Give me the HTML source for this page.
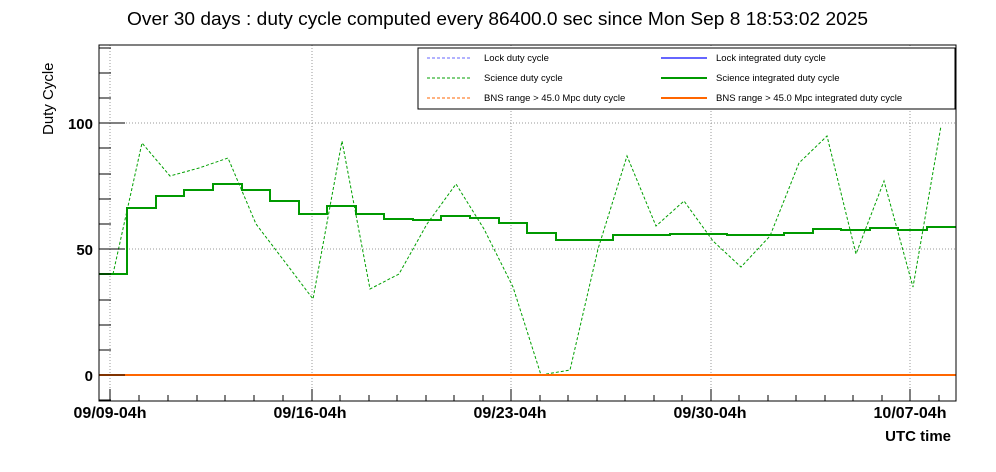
<!DOCTYPE html>
<html><head><style>body{margin:0;background:#fff}svg{display:block}</style></head><body>
<svg width="996" height="472" xmlns="http://www.w3.org/2000/svg" font-family="Liberation Sans, sans-serif">
<rect width="996" height="472" fill="#fff"/>
<text x="127" y="25" font-size="18" textLength="741" lengthAdjust="spacingAndGlyphs">Over 30 days : duty cycle computed every 86400.0 sec since Mon Sep  8 18:53:02 2025</text>
<g stroke="#999" stroke-width="1" stroke-dasharray="1,2">
<line x1="110" y1="45" x2="110" y2="401"/><line x1="312" y1="45" x2="312" y2="401"/><line x1="511" y1="45" x2="511" y2="401"/><line x1="711" y1="45" x2="711" y2="401"/><line x1="910" y1="45" x2="910" y2="401"/>
<line x1="99" y1="375" x2="956" y2="375"/><line x1="99" y1="249" x2="956" y2="249"/><line x1="99" y1="123" x2="956" y2="123"/>
</g>
<polyline fill="none" stroke="#00a000" stroke-width="1" stroke-dasharray="3,2" points="113,274 142,143 170,176 199,168 228,158 256,224 285,262 313,299 342,141 370,289 399,274 427,224 456,184 484,229 513,287 541,375 570,370 598,249 627,156 656,226 684,201 713,241 741,267 770,236 799,163 827,136 856,254 884,181 913,287 941,126"/>
<path fill="none" stroke="#009900" stroke-width="2" d="M99,274H127V208H156V196H184V190H213V184H242V190H270V201H299V214H327V206H356V214H384V219H413V220H441V216H470V218H499V223H527V233H556V240H613V235H670V234H727V235H784V233H813V229H841V230H870V228H898V230H927V227H956"/>
<line x1="99" y1="375" x2="956" y2="375" stroke="#ff6600" stroke-width="2"/>
<rect x="99" y="45" width="857" height="356" fill="none" stroke="#000" stroke-width="1"/>
<g stroke="#000" stroke-width="1">
<line x1="110" y1="401" x2="110" y2="389"/><line x1="312" y1="401" x2="312" y2="389"/><line x1="511" y1="401" x2="511" y2="389"/><line x1="711" y1="401" x2="711" y2="389"/><line x1="910" y1="401" x2="910" y2="389"/>
<line x1="139" y1="401" x2="139" y2="395"/><line x1="168" y1="401" x2="168" y2="395"/><line x1="197" y1="401" x2="197" y2="395"/><line x1="225" y1="401" x2="225" y2="395"/><line x1="254" y1="401" x2="254" y2="395"/><line x1="283" y1="401" x2="283" y2="395"/>
<line x1="340" y1="401" x2="340" y2="395"/><line x1="369" y1="401" x2="369" y2="395"/><line x1="397" y1="401" x2="397" y2="395"/><line x1="426" y1="401" x2="426" y2="395"/><line x1="454" y1="401" x2="454" y2="395"/><line x1="483" y1="401" x2="483" y2="395"/>
<line x1="540" y1="401" x2="540" y2="395"/><line x1="568" y1="401" x2="568" y2="395"/><line x1="597" y1="401" x2="597" y2="395"/><line x1="625" y1="401" x2="625" y2="395"/><line x1="654" y1="401" x2="654" y2="395"/><line x1="682" y1="401" x2="682" y2="395"/>
<line x1="739" y1="401" x2="739" y2="395"/><line x1="768" y1="401" x2="768" y2="395"/><line x1="796" y1="401" x2="796" y2="395"/><line x1="825" y1="401" x2="825" y2="395"/><line x1="853" y1="401" x2="853" y2="395"/><line x1="882" y1="401" x2="882" y2="395"/>
<line x1="939" y1="401" x2="939" y2="395"/>
<line x1="99" y1="375" x2="125" y2="375"/><line x1="99" y1="249" x2="125" y2="249"/><line x1="99" y1="123" x2="125" y2="123"/>
<line x1="99" y1="400" x2="111" y2="400"/><line x1="99" y1="350" x2="111" y2="350"/><line x1="99" y1="325" x2="111" y2="325"/><line x1="99" y1="300" x2="111" y2="300"/><line x1="99" y1="274" x2="111" y2="274"/>
<line x1="99" y1="224" x2="111" y2="224"/><line x1="99" y1="199" x2="111" y2="199"/><line x1="99" y1="174" x2="111" y2="174"/><line x1="99" y1="148" x2="111" y2="148"/>
<line x1="99" y1="98" x2="111" y2="98"/><line x1="99" y1="73" x2="111" y2="73"/><line x1="99" y1="48" x2="111" y2="48"/>
</g>
<g font-size="16" font-weight="bold" text-anchor="middle">
<text x="110" y="418">09/09-04h</text><text x="310" y="418">09/16-04h</text><text x="510" y="418">09/23-04h</text><text x="710" y="418">09/30-04h</text><text x="910" y="418">10/07-04h</text>
</g>
<g font-size="15" font-weight="bold" text-anchor="end">
<text x="93" y="381">0</text><text x="93" y="255">50</text><text x="93" y="129">100</text>
<text x="951" y="441">UTC time</text>
</g>
<text transform="translate(53,135) rotate(-90)" font-size="15">Duty Cycle</text>
<rect x="418" y="48" width="537" height="61" fill="#fff" stroke="#000"/>
<g stroke-dasharray="3,2" stroke-width="1">
<line x1="427" y1="58" x2="471" y2="58" stroke="#6666ff"/>
<line x1="427" y1="78" x2="471" y2="78" stroke="#00a000"/>
<line x1="427" y1="98" x2="471" y2="98" stroke="#ff6600"/>
</g>
<line x1="661" y1="58" x2="707" y2="58" stroke="#6666ff" stroke-width="2"/>
<line x1="661" y1="78" x2="707" y2="78" stroke="#009900" stroke-width="2"/>
<line x1="661" y1="98" x2="707" y2="98" stroke="#ff6600" stroke-width="2"/>
<g font-size="9.5">
<text x="484" y="61">Lock duty cycle</text><text x="484" y="81">Science duty cycle</text><text x="484" y="101">BNS range &gt; 45.0 Mpc duty cycle</text>
<text x="716" y="61">Lock integrated duty cycle</text><text x="716" y="81">Science integrated duty cycle</text><text x="716" y="101">BNS range &gt; 45.0 Mpc integrated duty cycle</text>
</g>
</svg>
</body></html>
